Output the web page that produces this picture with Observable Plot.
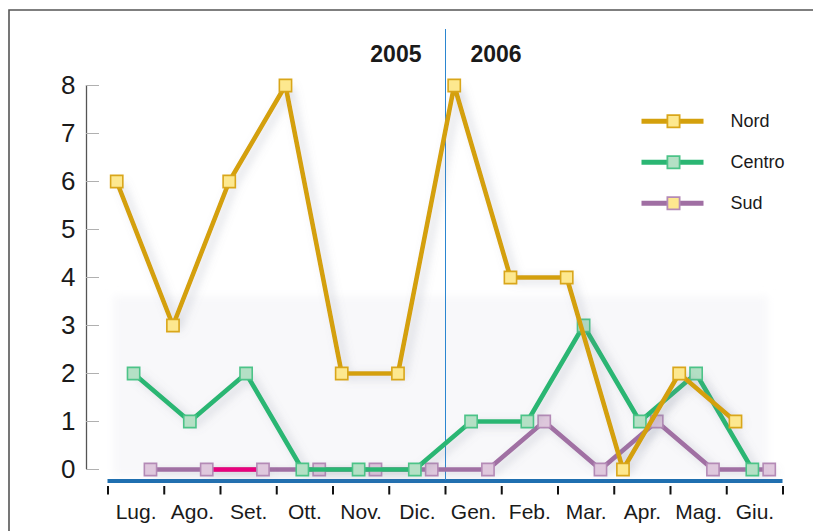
<!DOCTYPE html>
<html><head><meta charset="utf-8">
<script src="https://cdn.jsdelivr.net/npm/d3@7"></script>
<script src="https://cdn.jsdelivr.net/npm/@observablehq/plot@0.6"></script>
<style>body{margin:0;background:#fff}svg{display:block}</style>
</head><body><div id="chart"></div>
<script>
const months = ["Lug.","Ago.","Set.","Ott.","Nov.","Dic.","Gen.","Feb.","Mar.","Apr.","Mag.","Giu."];
const nord   = [6,3,6,8,2,2,8,4,4,0,2,1];
const centro = [2,1,2,0,0,0,1,1,3,1,2,0];
const sud    = [0,0,0,0,0,0,0,1,0,1,0,0];
const seriesNames = ["Nord","Centro","Sud"];
const yTicks = [0,1,2,3,4,5,6,7,8];
const years = ["2005","2006"];
const highlightSud = ["Ago.","Set."];

const colors = {
  Nord:   {line:"#d4a00c", fill:"#fde88f", stroke:"#d9a61a"},
  Centro: {line:"#2bb673", fill:"#b4e0c5", stroke:"#4cc388"},
  Sud:    {line:"#a06fa3", fill:"#dfc8dd", stroke:"#b48ab6"}
};
const offsets = {Nord:0.155, Centro:0.455, Sud:0.755};
const values = {Nord:nord, Centro:centro, Sud:sud};

const rows = name => months.map((m,i)=>({month:m, i, series:name, value:values[name][i], x:i+offsets[name]}));

// layout helpers (pixel -> data units) for decorations only
const px2x = p => (p-107.5)/56.25;
const px2y = p => (469-p)/48;

const font = "'Liberation Sans', Arial, Helvetica, sans-serif";
const R = 6.9;
const LW = 4.6;

const seriesMarks = name => [
  Plot.line(rows(name), {x:"x", y:"value", stroke:colors[name].line, strokeWidth:LW, strokeLinejoin:"round"}),
  ...(name==="Sud" ? [Plot.line(rows(name).filter(d=>highlightSud.includes(d.month)), {x:"x", y:"value", stroke:"#e8007d", strokeWidth:LW})] : []),
  Plot.dot(rows(name), {x:"x", y:"value", symbol:"square", r:R, fill:colors[name].fill, stroke:colors[name].stroke, strokeWidth:1.6})
];

const legendRows = seriesNames.map((s,k)=>({series:s, y:px2y(120.7 + k*41)}));

const plot = Plot.plot({
  width:813, height:531, margin:0,
  x:{domain:[0,12], range:[107.5,782.5], axis:null},
  y:{domain:[0,8], range:[469,85], axis:null},
  style:{background:"#fff", fontFamily:font},
  marks:[
    Plot.rect([0], {x1:px2x(113), x2:px2x(768), y1:px2y(476), y2:px2y(296), fill:"#f8f8fa"}),
    // y axis
    Plot.ruleX([px2x(86)], {y1:0, y2:8, stroke:"#555", strokeWidth:1.3}),
    Plot.ruleY(yTicks, {y:d=>d, x1:px2x(86), x2:px2x(99), stroke:"#b0b0b0", strokeWidth:1}),
    Plot.text(yTicks, {x:px2x(86), y:d=>d, text:d=>String(d), textAnchor:"end", dx:-11, fontSize:26, fill:"#1a1a1a"}),
    // x axis
    Plot.ruleY([px2y(480.5)], {x1:0, x2:12, stroke:"#1f6fb0", strokeWidth:4}),
    Plot.ruleX(d3.range(months.length+1), {x:d=>d, y1:px2y(486), y2:px2y(494.5), stroke:"#111", strokeWidth:2}),
    Plot.text(months, {x:(d,i)=>i+0.5, y:px2y(512), text:d=>d, fontSize:21, fill:"#1a1a1a"}),
    // year separator
    Plot.ruleX([months.indexOf("Gen.")], {x:d=>d, y1:px2y(480), y2:px2y(29), stroke:"#2b86d0", strokeWidth:1}),
    Plot.text([years[0]], {x:months.indexOf("Gen."), y:px2y(54), text:d=>d, textAnchor:"end", dx:-24, fontSize:23, fontWeight:"bold", fill:"#1a1a1a"}),
    Plot.text([years[1]], {x:months.indexOf("Gen."), y:px2y(54), text:d=>d, textAnchor:"start", dx:25, fontSize:23, fontWeight:"bold", fill:"#1a1a1a"}),
    // series (Sud bottom, Nord top)
    ...seriesMarks("Sud"),
    ...seriesMarks("Centro"),
    ...seriesMarks("Nord"),
    // legend
    Plot.link(legendRows, {x1:px2x(641), x2:px2x(703), y1:"y", y2:"y", stroke:d=>colors[d.series].line, strokeWidth:5}),
    Plot.dot(legendRows, {x:px2x(673), y:"y", symbol:"square", r:R, fill:d=>d.series==="Centro"?colors.Centro.fill:colors.Nord.fill, stroke:d=>colors[d.series].stroke, strokeWidth:1.8}),
    Plot.text(legendRows, {x:px2x(730), y:"y", text:"series", textAnchor:"start", fontSize:18, fill:"#1a1a1a"})
  ]
});
document.getElementById("chart").appendChild(plot);

// decorations: soft shadow on series lines, blurred panel, outer frame
const svg = d3.select(plot);
const defs = svg.insert("defs", ":first-child");
const f = defs.append("filter").attr("id","shadow").attr("filterUnits","userSpaceOnUse")
  .attr("x",0).attr("y",0).attr("width",813).attr("height",531);
f.append("feDropShadow").attr("dx",5).attr("dy",3).attr("stdDeviation",5).attr("flood-color","#7a8296").attr("flood-opacity",0.32);
const b = defs.append("filter").attr("id","blur").attr("filterUnits","userSpaceOnUse")
  .attr("x",0).attr("y",0).attr("width",813).attr("height",531);
b.append("feGaussianBlur").attr("stdDeviation",4);
svg.selectAll('g[aria-label="line"]').attr("filter","url(#shadow)");
svg.select('g[aria-label="rect"]').attr("filter","url(#blur)");
svg.append("path").attr("d","M9,540 V10 H820").attr("fill","none").attr("stroke","#555").attr("stroke-width",1.6);
</script></body></html>
